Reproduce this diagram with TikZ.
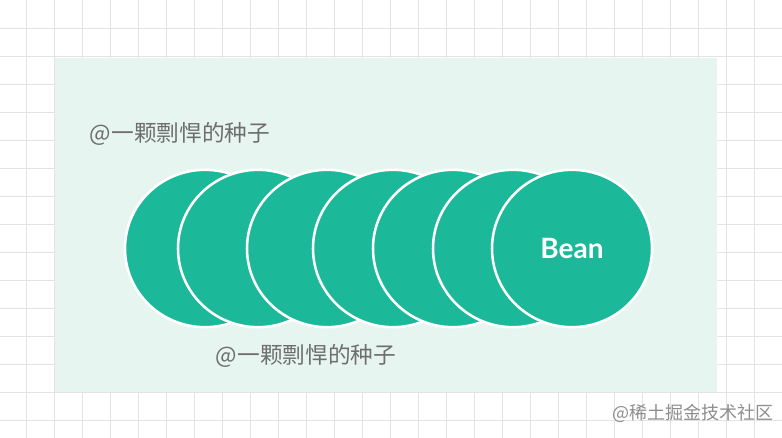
\documentclass[tikz,border=0pt]{standalone}
\usepackage{fontspec}
\newfontfamily\cjk{Noto Sans CJK SC}
\newfontfamily\beanfont{Lato}
\usetikzlibrary{shapes.geometric}

\definecolor{gridgray}{HTML}{E3E3E3}
\definecolor{panelmint}{HTML}{E7F5F1}
\definecolor{beangreen}{HTML}{1BB99A}
\definecolor{labelgray}{HTML}{6E6E6E}
\definecolor{markgray}{HTML}{8E8E8E}

\tikzset{every picture/.style={line width=0.75pt}}
\tikzset{
  bean/.style={ellipse, fill=beangreen, draw=white, line width=1.9pt,
    minimum width=120pt, minimum height=118pt, inner sep=0pt},
  seedlabel/.style={text=labelgray, font=\cjk\fontsize{17}{20}\selectfont, inner sep=0pt},
}

\begin{document}
\begin{tikzpicture}[x=0.75pt,y=0.75pt,yscale=-1,xscale=1]
		\useasboundingbox (0,0) rectangle (782,438);
		\fill[white] (0,0) rectangle (782,438);

		%Grid
		\foreach \gx in {0,...,27} {
		  \draw[gridgray] (26.7+28*\gx,0) -- (26.7+28*\gx,438);
		}
		\foreach \gy in {0,...,14} {
		  \draw[gridgray] (0,28.3+28*\gy) -- (782,28.3+28*\gy);
		}

		%Shape: Panel
		\fill[panelmint] (55,58.5) rectangle (717,392);

		%Beans, left to right
		\node[bean] (bean1) at (205,248.5) {};
		\node[bean] (bean2) at (258,248.5) {};
		\node[bean] (bean3) at (327,248.5) {};
		\node[bean] (bean4) at (393,248.5) {};
		\node[bean] (bean5) at (453,248.5) {};
		\node[bean] (bean6) at (513,248.5) {};
		\node[bean, text=white, font=\beanfont\bfseries\fontsize{21}{24}\selectfont] (bean7) at (572,248.5) {Bean};

		% Text Node
		\node[seedlabel] (seedtop) at (180,134) {@一颗剽悍的种子};
		% Text Node
		\node[seedlabel] (seedbottom) at (306,356) {@一颗剽悍的种子};
		% Text Node
		\node[text=markgray, font=\cjk\fontsize{13.5}{16}\selectfont, inner sep=0pt] (watermark) at (693,413) {@稀土掘金技术社区};

\end{tikzpicture}
\end{document}
